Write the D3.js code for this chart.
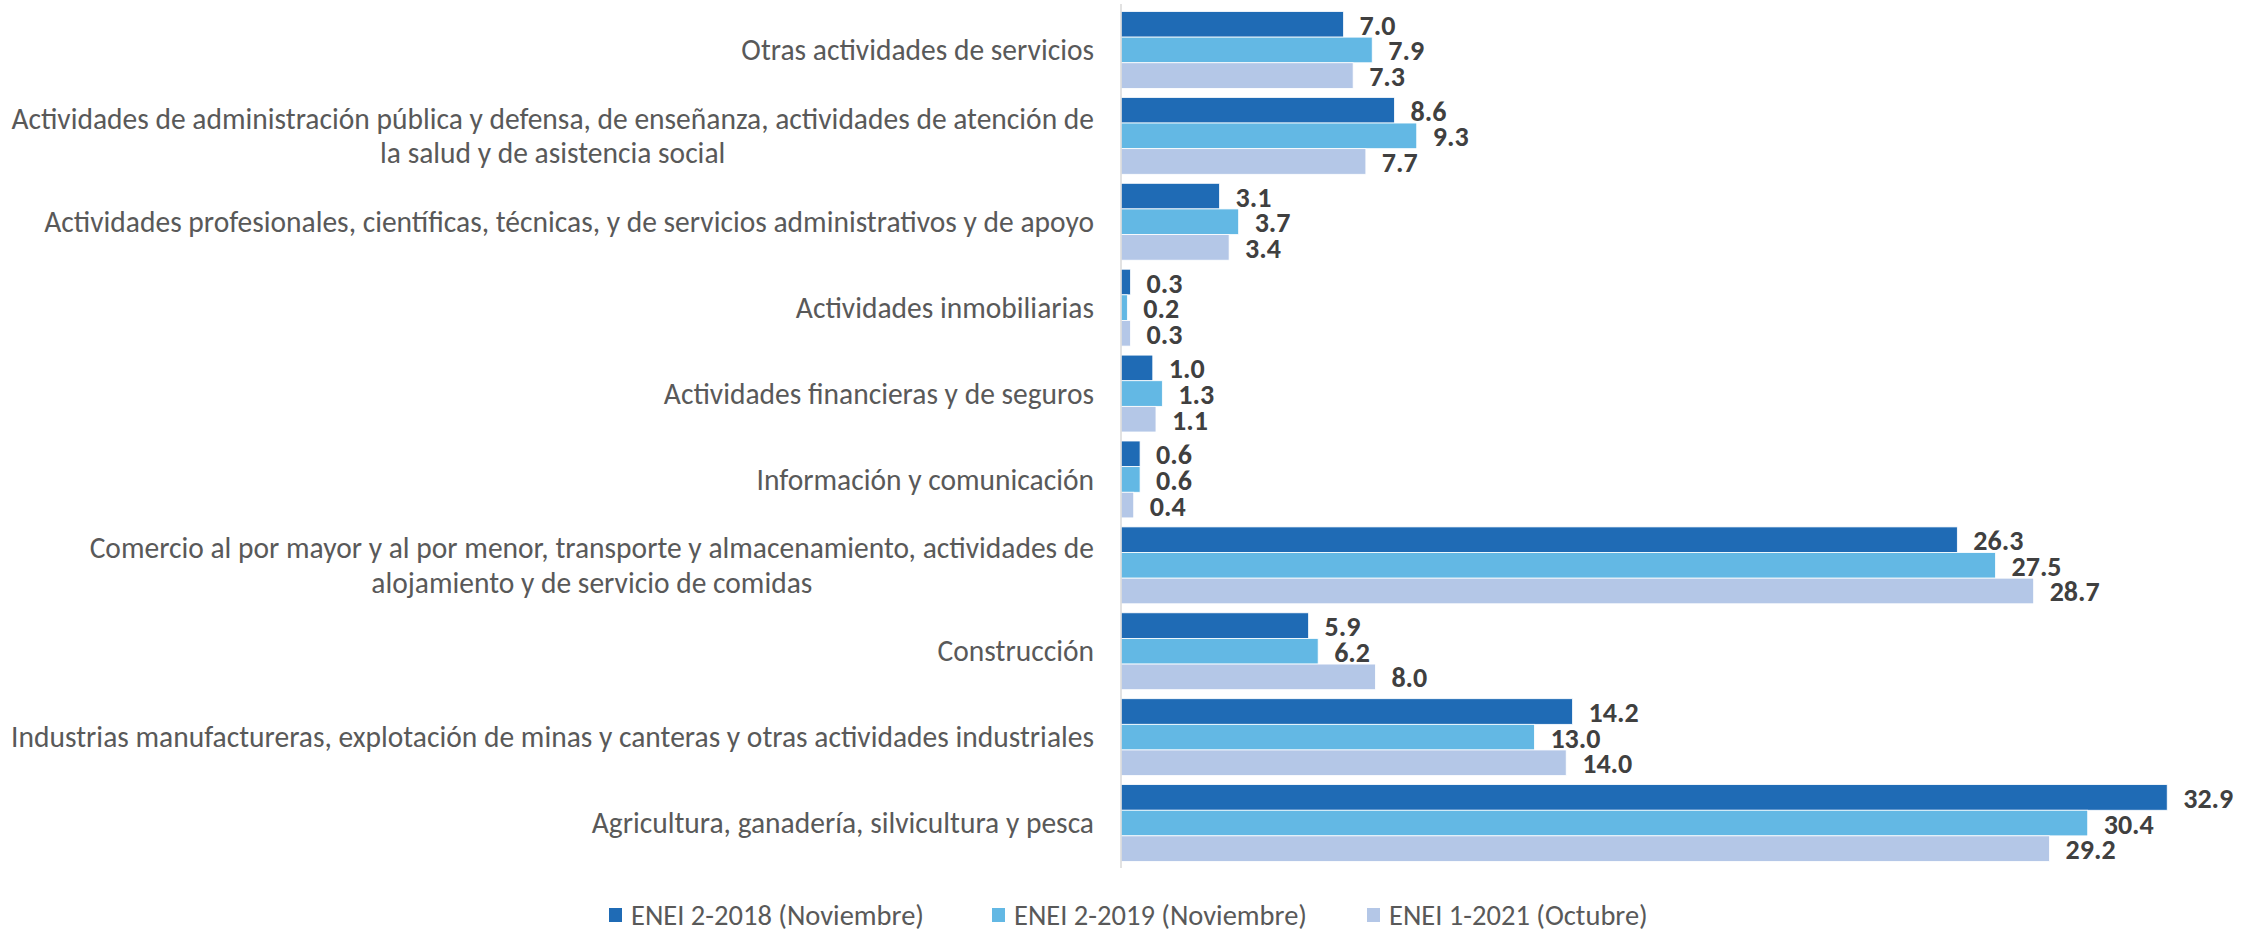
<!DOCTYPE html>
<html>
<head>
<meta charset="utf-8">
<script src="https://cdn.jsdelivr.net/npm/d3@7"></script>
<style>
  html, body { margin: 0; padding: 0; background: #fff; }
  svg { display: block; }
</style>
</head>
<body>
<div id="chart"></div>
<script>
// Horizontal grouped bars: three ENEI rounds per economic sector

var categories = [
  ['Otras actividades de servicios'],
  ['Actividades de administración pública y defensa, de enseñanza, actividades de atención de', 'la salud y de asistencia social'],
  ['Actividades profesionales, científicas, técnicas, y de servicios administrativos y de apoyo'],
  ['Actividades inmobiliarias'],
  ['Actividades financieras y de seguros'],
  ['Información y comunicación'],
  ['Comercio al por mayor y al por menor, transporte y almacenamiento, actividades de', 'alojamiento y de servicio de comidas'],
  ['Construcción'],
  ['Industrias manufactureras, explotación de minas y canteras y otras actividades industriales'],
  ['Agricultura, ganadería, silvicultura y pesca']
]

var seriesNames = ['ENEI 2-2018 (Noviembre)', 'ENEI 2-2019 (Noviembre)', 'ENEI 1-2021 (Octubre)']
var values2018 = [7.0, 8.6, 3.1, 0.3, 1.0, 0.6, 26.3, 5.9, 14.2, 32.9]
var values2019 = [7.9, 9.3, 3.7, 0.2, 1.3, 0.6, 27.5, 6.2, 13.0, 30.4]
var values2021 = [7.3, 7.7, 3.4, 0.3, 1.1, 0.4, 28.7, 8.0, 14.0, 29.2]
var colors = ['#1f6bb5', '#63b8e4', '#b4c7e7']

var width = 2264
var height = 933
var axisX = 1121
var labelRight = 1094
var fontStack = 'Calibri, Carlito, "Open Sans", "Liberation Sans", sans-serif'
var fontSize = 30

var series = [values2018, values2019, values2021]

var svg = d3.select('#chart').append('svg')
  .attr('width', width)
  .attr('height', height)

// The reference text is a bit taller than it is wide, so measure the longest label and squeeze to its width
var probe = svg.append('text')
  .style('font-family', fontStack)
  .style('font-size', fontSize + 'px')
  .text(categories[8][0])
var squeeze = 1083 / probe.node().getComputedTextLength()
probe.remove()

var x = d3.scaleLinear().domain([0, 35]).range([axisX, axisX + 35 * 31.8])

var y = d3.scaleBand()
  .domain(d3.range(categories.length))
  .range([7, 866])
  .paddingInner(0.105)
  .paddingOuter(0.0525)

var ySub = d3.scaleBand()
  .domain(d3.range(series.length))
  .range([0, y.bandwidth()])

// Bars
var groups = svg.append('g').selectAll('g')
  .data(categories)
  .join('g')
  .attr('transform', function (d, i) { return 'translate(0,' + y(i) + ')' })

groups.each(function (d, i) {
  var g = d3.select(this)
  series.forEach(function (vals, s) {
    g.append('rect')
      .attr('x', x(0))
      .attr('y', ySub(s))
      .attr('width', x(vals[i]) - x(0))
      .attr('height', ySub.bandwidth())
      .attr('fill', colors[s])
      .attr('stroke', '#ffffff')
      .attr('stroke-width', 0.8)
  })
})

// Value labels drawn after all bars so nothing covers them
groups.each(function (d, i) {
  var g = d3.select(this)
  series.forEach(function (vals, s) {
    g.append('text')
      .attr('x', x(vals[i]) + 16)
      .attr('y', ySub(s) + ySub.bandwidth() / 2 + 1)
      .attr('dominant-baseline', 'central')
      .style('font-family', fontStack)
      .style('font-size', '28px')
      .style('font-weight', 'bold')
      .attr('fill', '#404040')
      .text(vals[i].toFixed(1))
  })
})

// Category axis line
svg.append('line')
  .attr('x1', axisX).attr('x2', axisX)
  .attr('y1', 4).attr('y2', 868)
  .attr('stroke', '#d9d9d9')
  .attr('stroke-width', 1.5)

// Category labels (multi-line ones are centred on their widest line)
var lineGap = 34.7
categories.forEach(function (lines, i) {
  var cy = y(i) + y.bandwidth() / 2
  var g = svg.append('g')
  var texts = lines.map(function (line, j) {
    return g.append('text')
      .attr('y', cy + (j - (lines.length - 1) / 2) * lineGap)
      .attr('dominant-baseline', 'central')
      .style('font-family', fontStack)
      .style('font-size', fontSize + 'px')
      .attr('fill', '#595959')
      .text(line)
  })
  var widths = texts.map(function (t) { return t.node().getComputedTextLength() * squeeze })
  var maxW = d3.max(widths)
  var centre = labelRight - maxW / 2
  texts.forEach(function (t) {
    if (lines.length > 1) {
      t.attr('text-anchor', 'middle')
        .attr('transform', 'translate(' + centre + ',0) scale(' + squeeze + ',1)')
    } else {
      t.attr('text-anchor', 'end')
        .attr('transform', 'translate(' + labelRight + ',0) scale(' + squeeze + ',1)')
    }
  })
})

// Legend
var legendX = [609, 992, 1367]
var legend = svg.append('g').selectAll('g')
  .data(seriesNames)
  .join('g')
  .attr('transform', function (d, i) { return 'translate(' + legendX[i] + ',915)' })

legend.append('rect')
  .attr('x', 0).attr('y', -7)
  .attr('width', 13).attr('height', 14)
  .attr('fill', function (d, i) { return colors[i] })

legend.append('text')
  .attr('transform', 'translate(22,0) scale(' + squeeze + ',1)')
  .attr('dominant-baseline', 'central')
  .style('font-family', fontStack)
  .style('font-size', '29px')
  .attr('fill', '#595959')
  .text(function (d) { return d })
</script>
</body>
</html>
